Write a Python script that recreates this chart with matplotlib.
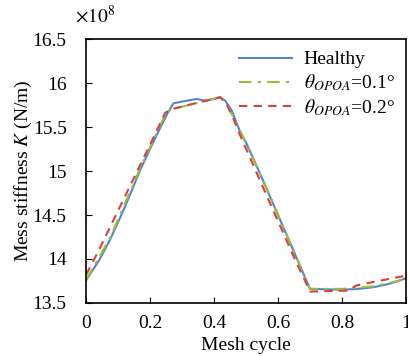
import matplotlib.pyplot as plt
import numpy as np

# Data (values x 1e8 N/m)
healthy_x = [0, 0.04, 0.075, 0.12, 0.169, 0.21, 0.252, 0.273, 0.30, 0.346, 0.372, 0.40, 0.419,
             0.435, 0.455, 0.481, 0.502, 0.55, 0.60, 0.65, 0.70, 0.75, 0.80, 0.85, 0.90, 0.95, 1.0]
healthy_y = [13.76, 13.98, 14.22, 14.58, 15.01, 15.33, 15.64, 15.77, 15.79, 15.82, 15.80, 15.82, 15.84,
             15.80, 15.69, 15.45, 15.31, 14.92, 14.50, 14.08, 13.66, 13.655, 13.65, 13.66, 13.68, 13.72, 13.78]

opoa01_x = [0, 0.075, 0.169, 0.25, 0.265, 0.419, 0.44, 0.48, 0.55, 0.60, 0.65, 0.70, 0.80, 0.90, 1.0]
opoa01_y = [13.76, 14.24, 15.03, 15.66, 15.70, 15.84, 15.76, 15.47, 14.92, 14.50, 14.08, 13.66, 13.66, 13.69, 13.77]

opoa02_x = [0, 0.04, 0.116, 0.20, 0.247, 0.262, 0.419, 0.44, 0.46, 0.48, 0.55, 0.60, 0.65, 0.70,
            0.815, 0.846, 0.90, 1.0]
opoa02_y = [13.82, 14.10, 14.67, 15.30, 15.66, 15.70, 15.84, 15.76, 15.60, 15.42, 14.84, 14.43, 14.02, 13.63,
            13.64, 13.70, 13.74, 13.81]

x_ticks = [0, 0.2, 0.4, 0.6, 0.8, 1]
y_ticks = [13.5, 14, 14.5, 15, 15.5, 16, 16.5]

plt.rcParams['font.family'] = ['Liberation Serif', 'DejaVu Serif']
plt.rcParams['mathtext.fontset'] = 'stix'

fig = plt.figure(figsize=(4.08, 3.56), dpi=100)
ax = fig.add_axes([0.211, 0.149, 0.784, 0.741])

ax.plot(healthy_x, healthy_y, color='#4f86cf', lw=1.5, label='Healthy')
ax.plot(opoa01_x, opoa01_y, color='#9bbb3c', lw=1.5, ls=(0, (6, 3, 1.5, 3)),
        label=r'$\theta_{OPOA}$=0.1°')
ax.plot(opoa02_x, opoa02_y, color='#d9413f', lw=1.5, ls=(0, (4, 3)),
        label=r'$\theta_{OPOA}$=0.2°')

ax.set_xlim(0, 1)
ax.set_ylim(13.5, 16.5)
ax.set_xticks(x_ticks)
ax.set_xticklabels(['%g' % t for t in x_ticks])
ax.set_yticks(y_ticks)
ax.set_yticklabels(['%g' % t for t in y_ticks])
ax.tick_params(direction='in', length=4, labelsize=14)
ax.tick_params(axis='y', pad=14)
ax.tick_params(axis='x', pad=9)
for s in ax.spines.values():
    s.set_linewidth(1.2)

ax.set_xlabel('Mesh cycle', fontsize=14, labelpad=3)
ax.set_ylabel(r'Mess stiffness $K$ (N/m)', fontsize=14, labelpad=-1)
fig.text(0.185, 0.925, r'$\times10^8$', fontsize=14, ha='left', va='bottom')

ax.legend(loc='upper right', frameon=False, fontsize=14, handlelength=2.7,
          borderaxespad=0.2, labelspacing=0.2, handletextpad=0.6)

fig.savefig('out.png', dpi=100)
